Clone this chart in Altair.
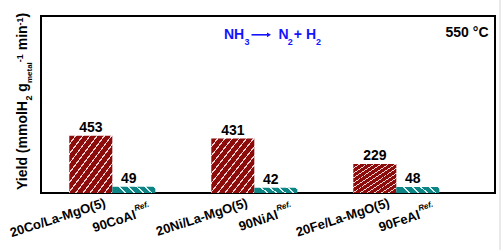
import altair as alt
import pandas as pd

# ---- data ----
groups = ["Co", "Ni", "Fe"]
new_labels = ["20Co/La-MgO(5)", "20Ni/La-MgO(5)", "20Fe/La-MgO(5)"]
ref_labels = ["90CoAl", "90NiAl", "90FeAl"]
new_values = [453, 431, 229]
ref_values = [49, 42, 48]

rows = []
for g, nl, rl, nv, rv in zip(groups, new_labels, ref_labels, new_values, ref_values):
    rows.append({"group": g, "type": "new", "label": nl, "value": nv})
    rows.append({"group": g, "type": "ref", "label": rl, "value": rv})
df = pd.DataFrame(rows)

W, H = 454, 177
FONT = "Liberation Sans"
RED = "#8c0c0c"
TEAL = "#0e8585"
BLUE = "#1414ff"


def stripes(base, line, n, frac):
    stops = []
    for i in range(n):
        a = i / n
        b = a + (1 - frac) / n
        c = (i + 1) / n
        stops += [
            alt.GradientStop(offset=a, color=base),
            alt.GradientStop(offset=b, color=base),
            alt.GradientStop(offset=b, color=line),
            alt.GradientStop(offset=c, color=line),
        ]
    return stops


red_grad = alt.LinearGradient(gradient="linear", stops=stripes(RED, "#f0d0d0", 12, 0.2),
                              x1=0, y1=0, x2=1, y2=1)
teal_grad = alt.LinearGradient(gradient="linear", stops=stripes(TEAL, "#d8f2f2", 5, 0.22),
                               x1=0, y1=0.15, x2=1, y2=0)

xenc = alt.X("group:N", sort=groups,
             scale=alt.Scale(domain=groups, paddingInner=0.394, paddingOuter=0.2956, align=0.337),
             axis=None)
xoff = alt.XOffset("type:N", scale=alt.Scale(domain=["new", "ref"], paddingInner=0, paddingOuter=0))
yenc = alt.Y("value:Q", scale=alt.Scale(domain=[0, 1400], nice=False, zero=True), axis=None)

base = alt.Chart(df)

red_bars = base.transform_filter(alt.datum.type == "new").mark_bar(fill=red_grad).encode(
    x=xenc, xOffset=xoff, y=yenc)
teal_bars = base.transform_filter(alt.datum.type == "ref").mark_bar(fill=teal_grad).encode(
    x=xenc, xOffset=xoff, y=yenc)

red_vals = base.transform_filter(alt.datum.type == "new").mark_text(
    font=FONT, fontWeight="bold", fontSize=14, baseline="alphabetic", dy=-4, color="black"
).encode(x=xenc, xOffset=xoff, y=yenc, text=alt.Text("value:Q"))
teal_vals = base.transform_filter(alt.datum.type == "ref").mark_text(
    font=FONT, fontWeight="bold", fontSize=14, baseline="alphabetic", dy=-4, dx=-5, color="black"
).encode(x=xenc, xOffset=xoff, y=yenc, text=alt.Text("value:Q"))

red_cat = base.transform_filter(alt.datum.type == "new").mark_text(
    font=FONT, fontWeight="bold", fontSize=13, angle=342, align="right", baseline="top",
    dx=10.7, dy=7.7, color="black"
).encode(x=xenc, xOffset=xoff, y=alt.value(H), text="label:N")
teal_cat = base.transform_filter(alt.datum.type == "ref").mark_text(
    font=FONT, fontWeight="bold", fontSize=13, angle=342, align="right", baseline="top",
    dx=-4.9, dy=15.2, color="black"
).encode(x=xenc, xOffset=xoff, y=alt.value(H), text="label:N")
teal_sup = base.transform_filter(alt.datum.type == "ref").mark_text(
    font=FONT, fontWeight="bold", fontStyle="italic", fontSize=8, angle=342, align="left",
    baseline="alphabetic", dx=-4.2, dy=17.5, color="black", text="Ref."
).encode(x=xenc, xOffset=xoff, y=alt.value(H))

layers = [red_bars, teal_bars, red_vals, teal_vals, red_cat, teal_cat, teal_sup]


def note(text, x, y, size=14, color="black", align="left", angle=0, dx=0, dy=0,
         baseline="alphabetic", style="normal"):
    kw = dict(font=FONT, fontWeight="bold", fontSize=size, color=color, align=align,
              baseline=baseline, dx=dx, dy=dy, text=text, fontStyle=style)
    if angle:
        kw["angle"] = angle
    return alt.Chart(pd.DataFrame({"t": [text]})).mark_text(**kw).encode(
        x=alt.value(x), y=alt.value(y))


# ---- y-axis title with sub/superscripts (rotated) ----
widths = {" ": 278, "(": 333, ")": 333, "-": 333, ".": 278, "1": 556, "2": 556, "Y": 667,
          "i": 278, "e": 556, "l": 278, "d": 611, "m": 889, "o": 611, "H": 722, "g": 611,
          "t": 333, "a": 556, "n": 611}


def tw(s, size):
    return sum(widths[c] for c in s) * size / 1000


title_segs = [("Yield (mmolH", 14, 0), ("2", 9, 5), (" g", 14, 0), ("metal", 8, 5),
              ("-1", 9, -4.5), (" min", 14, 0), ("-1", 9, -4.5), (")", 14, 0)]
pos = 0.0
for text, size, shift in title_segs:
    lead = len(text) - len(text.lstrip())
    start = pos + tw(text[:lead], size)
    layers.append(note(text.strip(), -13.7, 174, size=size, angle=270, dx=start, dy=shift))
    pos += tw(text, size)

# ---- reaction annotation ----
ry = 23
layers.append(note("NH", 183, ry, color=BLUE))
layers.append(note("3", 203.5, ry, size=9, color=BLUE, dy=6))
layers.append(alt.Chart(pd.DataFrame({"t": [0]})).mark_rule(color=BLUE, strokeWidth=1.6).encode(
    x=alt.value(210.5), x2=alt.value(226.5), y=alt.value(18.8)))
layers.append(alt.Chart(pd.DataFrame({"t": [0]})).mark_point(
    shape="triangle-right", filled=True, color=BLUE, size=22, opacity=1).encode(
    x=alt.value(228), y=alt.value(18.8)))
layers.append(note("N", 237.5, ry, color=BLUE))
layers.append(note("2", 246.8, ry, size=9, color=BLUE, dy=6))
layers.append(note("+", 252.8, ry, color=BLUE))
layers.append(note("H", 265.0, ry, color=BLUE))
layers.append(note("2", 275.0, ry, size=9, color=BLUE, dy=6))

# ---- temperature ----
layers.append(note("550 °C", 447.5, 21, align="right"))

# ---- light page border on the right ----
layers.append(alt.Chart(pd.DataFrame({"t": [0]})).mark_rule(color="#d4d4d4", strokeWidth=1).encode(
    x=alt.value(459), y=alt.value(-16), y2=alt.value(234)))

chart = alt.layer(*layers).properties(
    width=W, height=H,
    autosize=alt.AutoSizeParams(type="none"),
    padding={"left": 41, "top": 16, "right": 7, "bottom": 57},
    background="white",
).configure_view(stroke="black", strokeWidth=2, fill="white")

chart.save("out.html", embed_options={"renderer": "svg", "actions": False})
